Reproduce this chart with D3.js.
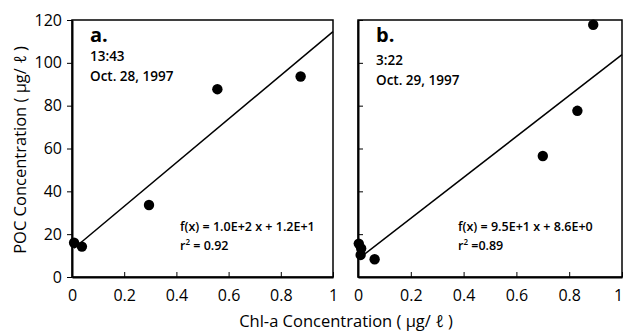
<!DOCTYPE html>
<html>
<head>
<meta charset="utf-8">
<script src="https://cdn.jsdelivr.net/npm/d3@7"></script>
<style>
  body { margin: 0; background: #fff; }
  svg { font-family: "Open Sans", "Noto Sans", sans-serif; }
  .axis path, .axis line { stroke: #000; }
  .axis text { font-size: 16px; fill: #000; font-family: "Open Sans", sans-serif; }
</style>
</head>
<body>
<div id="chart"></div>
<script>
// data
var aChl = [0.008, 0.038, 0.295, 0.557, 0.876];
var aPoc = [16.0, 14.2, 33.6, 87.7, 93.6];
var bChl = [0.003, 0.012, 0.010, 0.063, 0.700, 0.831, 0.891];
var bPoc = [15.6, 13.3, 10.3, 8.3, 56.5, 77.6, 117.8];

var fitSlope = [102, 95.5];
var fitIntercept = [12.6, 8.3];

var panelTags = ["a.", "b."];
var panelTimes = ["13:43", "3:22"];
var panelDates = ["Oct. 28, 1997", "Oct. 29, 1997"];
var fitLabels = ["f(x) = 1.0E+2 x + 1.2E+1", "f(x) = 9.5E+1 x + 8.6E+0"];
var r2Labels = ["= 0.92", "=0.89"];

var xTicks = [0, 0.2, 0.4, 0.6, 0.8, 1];
var yTicks = [0, 20, 40, 60, 80, 100, 120];

var svgWidth = 623;
var svgHeight = 333;

var svg = d3.select("#chart")
  .append("svg")
  .attr("width", svgWidth)
  .attr("height", svgHeight);

var plotTop = 20, plotBottom = 277;

var yScale = d3.scaleLinear()
  .domain([0, 120])
  .range([plotBottom, plotTop]);

var panels = [
  { x0: 72, x1: 333, chl: aChl, poc: aPoc },
  { x0: 358, x1: 622, chl: bChl, poc: bPoc }
];

panels.forEach(function(p, i) {
  var xScale = d3.scaleLinear()
    .domain([0, 1])
    .range([p.x0, p.x1]);

  var g = svg.append("g");

  // frame
  g.append("rect")
    .attr("x", p.x0)
    .attr("y", plotTop)
    .attr("width", p.x1 - p.x0)
    .attr("height", plotBottom - plotTop)
    .attr("fill", "none")
    .attr("stroke", "#000")
    .attr("stroke-width", 1.5);

  var bottomAxis = d3.axisBottom(xScale)
    .tickValues(xTicks)
    .tickFormat(d3.format("~g"))
    .tickSizeInner(-5)
    .tickSizeOuter(0)
    .tickPadding(13);

  var xAxisG = g.append("g")
    .attr("class", "axis")
    .attr("transform", `translate(0, ${plotBottom})`)
    .call(bottomAxis)
    .call(s => s.select(".domain").attr("stroke-width", 2));

  // last label of the right panel sits at the page edge
  if (i == 1) {
    xAxisG.selectAll(".tick text").filter(d => d == 1).attr("x", -4);
  }

  var leftAxis = d3.axisLeft(yScale)
    .tickValues(yTicks)
    .tickSizeOuter(0);
  if (i == 0) {
    leftAxis.tickSizeInner(5).tickPadding(5);
  } else {
    leftAxis.tickSizeInner(-5).tickFormat("");
  }

  g.append("g")
    .attr("class", "axis")
    .attr("transform", `translate(${p.x0}, 0)`)
    .call(leftAxis)
    .call(s => s.select(".domain").attr("stroke-width", 2));

  // fitted line
  var fx = [d3.min(p.chl), 1];
  g.append("line")
    .attr("x1", xScale(fx[0]))
    .attr("y1", yScale(fitSlope[i] * fx[0] + fitIntercept[i]))
    .attr("x2", xScale(fx[1]))
    .attr("y2", yScale(fitSlope[i] * fx[1] + fitIntercept[i]))
    .attr("stroke", "#000")
    .attr("stroke-width", 1.5);

  g.selectAll("circle")
    .data(p.chl)
    .enter()
    .append("circle")
    .attr("cx", d => xScale(d))
    .attr("cy", (d, j) => yScale(p.poc[j]))
    .attr("r", 5.2)
    .attr("fill", "#000");

  var tx = p.x0 + 18;
  g.append("text")
    .attr("x", tx)
    .attr("y", 42)
    .attr("font-size", "20px")
    .attr("font-weight", "bold")
    .text(panelTags[i]);
  g.append("text")
    .attr("x", tx)
    .attr("y", i == 0 ? 61 : 65)
    .attr("font-size", "13.5px")
    .attr("font-weight", "600")
    .text(panelTimes[i]);
  g.append("text")
    .attr("x", tx)
    .attr("y", i == 0 ? 81 : 85)
    .attr("font-size", "13.5px")
    .attr("font-weight", "600")
    .text(panelDates[i]);

  var ex = p.x0 + (i == 0 ? 108 : 100);
  g.append("text")
    .attr("x", ex)
    .attr("y", 231)
    .attr("font-size", "12.5px")
    .attr("font-weight", "600")
    .text(fitLabels[i]);
  var r2 = g.append("text")
    .attr("x", ex)
    .attr("y", 250)
    .attr("font-size", "12.5px")
    .attr("font-weight", "600");
  r2.append("tspan").text("r");
  r2.append("tspan").attr("dy", -5).attr("font-size", "8px").text("2");
  r2.append("tspan").attr("dy", 5).text(" " + r2Labels[i]);
});

svg.append("text")
  .attr("transform", `translate(346, 327)`)
  .attr("text-anchor", "middle")
  .attr("font-size", "16.5px")
  .text("Chl-a Concentration ( \u03bcg/ \u2113 )");

svg.append("text")
  .attr("transform", `translate(26, 150) rotate(-90)`)
  .attr("text-anchor", "middle")
  .attr("font-size", "16.5px")
  .text("POC Concentration ( \u03bcg/ \u2113 )");
</script>
</body>
</html>
